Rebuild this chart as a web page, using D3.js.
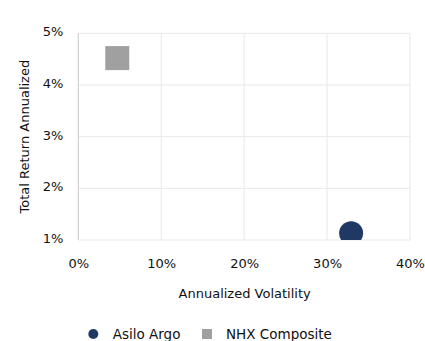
<!DOCTYPE html>
<html><head><meta charset="utf-8">
<script src="https://cdn.jsdelivr.net/npm/d3@7"></script>
<style>body{margin:0;background:#fff;} text{font-family:"DejaVu Sans",Verdana,sans-serif;}</style>
</head><body>
<svg id="c" width="425" height="341"></svg>
<script>
const series = ["Asilo Argo", "NHX Composite"];
const volatility = [0.329, 0.047];
const totalReturn = [0.0113, 0.0452];
const shapes = ["circle", "square"];
const colors = ["#1f3864", "#a0a0a0"];
const xTicks = [0, 0.1, 0.2, 0.3, 0.4];
const yTicks = [0.01, 0.02, 0.03, 0.04, 0.05];

const svg = d3.select("#c");
const m = {l: 78.3, t: 33.3};
const x = d3.scaleLinear().domain([0, 0.4]).range([m.l, 410]);
const y = d3.scaleLinear().domain([0.01, 0.05]).range([240, m.t]);
const fmt = d3.format(".0%");

const defs = svg.append("defs");
defs.append("clipPath").attr("id", "plot").append("rect")
  .attr("x", x(0)).attr("y", y(0.05)).attr("width", x(0.4) - x(0)).attr("height", y(0.01) - y(0.05));

// gridlines
svg.append("g").selectAll("line").data(xTicks).join("line")
  .attr("x1", d => x(d)).attr("x2", d => x(d)).attr("y1", y(0.05)).attr("y2", y(0.01))
  .attr("stroke", "#e8e8e8").attr("stroke-width", 1);
svg.append("g").selectAll("line").data(yTicks).join("line")
  .attr("x1", x(0)).attr("x2", x(0.4)).attr("y1", d => y(d)).attr("y2", d => y(d))
  .attr("stroke", "#e8e8e8").attr("stroke-width", 1);
svg.append("line").attr("x1", x(0)).attr("x2", x(0)).attr("y1", y(0.05)).attr("y2", y(0.01))
  .attr("stroke", "#cfcfcf");

const xa = svg.append("g").attr("transform", `translate(0,${y(0.01)})`)
  .call(d3.axisBottom(x).tickValues(xTicks).tickFormat(fmt).tickSize(0).tickPadding(19));
xa.select(".domain").remove();
xa.selectAll("text").attr("font-size", 13).attr("fill", "#111").style("font-family", '"DejaVu Sans",Verdana,sans-serif');
const ya = svg.append("g").attr("transform", `translate(${x(0)},0)`)
  .call(d3.axisLeft(y).tickValues(yTicks).tickFormat(fmt).tickSize(0).tickPadding(15));
ya.select(".domain").remove();
ya.selectAll("text").attr("font-size", 13).attr("fill", "#111").attr("dy", "0.2em").style("font-family", '"DejaVu Sans",Verdana,sans-serif');

svg.append("text").attr("x", (x(0) + x(0.4)) / 2 + 0.5).attr("y", 298).attr("text-anchor", "middle")
  .attr("font-size", 13).attr("fill", "#111").text("Annualized Volatility");
svg.append("text").attr("transform", `translate(29,${(y(0.01) + y(0.05)) / 2}) rotate(-90)`)
  .attr("text-anchor", "middle").attr("font-size", 13).attr("fill", "#111").text("Total Return Annualized");

const pts = svg.append("g").attr("clip-path", "url(#plot)");
series.forEach((s, i) => {
  const cx = x(volatility[i]), cy = y(totalReturn[i]);
  if (shapes[i] === "circle") {
    pts.append("circle").attr("cx", cx).attr("cy", cy).attr("r", 12).attr("fill", colors[i]);
  } else {
    pts.append("rect").attr("x", cx - 12).attr("y", cy - 12).attr("width", 24).attr("height", 24).attr("fill", colors[i]);
  }
});

const lg = svg.append("g");
const lx = [93.3, 207];
const tx = [112.7, 226];
series.forEach((s, i) => {
  if (shapes[i] === "circle") lg.append("circle").attr("cx", lx[i]).attr("cy", 334).attr("r", 5).attr("fill", colors[i]);
  else lg.append("rect").attr("x", lx[i] - 5).attr("y", 329).attr("width", 10).attr("height", 10).attr("fill", colors[i]);
  lg.append("text").attr("x", tx[i]).attr("y", 339).attr("font-size", 13.5).attr("fill", "#111").text(s);
});
</script>
</body></html>
